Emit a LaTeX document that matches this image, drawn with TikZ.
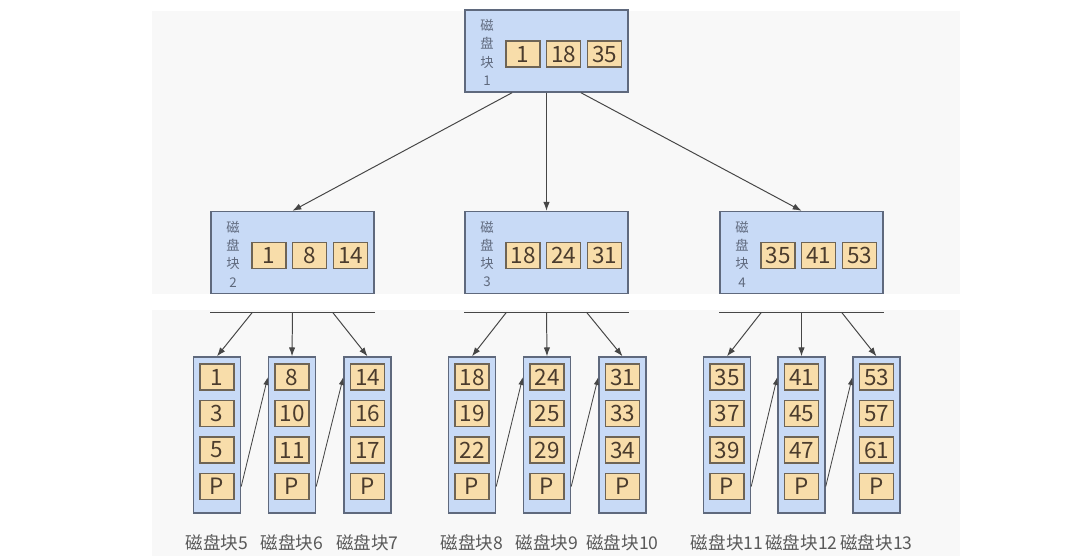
\documentclass[tikz,border=0pt]{standalone}
\usepackage{fontspec}
\usepackage{tikz}
\usetikzlibrary{arrows.meta}
\newfontfamily\cjk{Noto Sans CJK SC}

\definecolor{blockfill}{RGB}{200,218,246}
\definecolor{blockline}{RGB}{95,105,125}
\definecolor{keyfill}{RGB}{248,221,170}
\definecolor{keyline}{RGB}{110,100,85}
\definecolor{keytext}{RGB}{75,60,45}
\definecolor{arrowline}{RGB}{70,70,70}
\definecolor{backfill}{RGB}{248,248,248}

\tikzset{
  block/.style={draw=blockline, line width=1pt, fill=blockfill, inner sep=0pt},
  key/.style={draw=keyline, line width=0.8pt, fill=keyfill, text=keytext, inner sep=0pt,
    minimum width=0.85cm, minimum height=0.65cm, font=\cjk\fontsize{16}{16}\selectfont},
  blocktag/.style={align=center, text=blockline, inner sep=0pt, font=\cjk\fontsize{9.5}{13}\selectfont},
  leaftag/.style={text=black!65, inner sep=0pt, font=\cjk\fontsize{12.5}{12.5}\selectfont},
  arr/.style={draw=arrowline, line width=0.7pt, -{Latex[length=2.2mm,width=1.6mm]}},
  link/.style={draw=arrowline, line width=0.6pt, -{Latex[length=2mm,width=1.3mm]}}
}

\begin{document}
\begin{tikzpicture}[x=0.025cm, y=-0.025cm]
  \useasboundingbox (0,0) rectangle (1084,556);
  \fill[backfill] (152,11) rectangle (960,294);
  \fill[backfill] (152,310) rectangle (960,556);

  % root and second level
  \foreach \b/\x/\y/\ka/\kb/\kc in {1/546.5/51/1/18/35, 2/292.5/252.5/1/8/14,
                                     3/546.5/252.5/18/24/31, 4/801.5/252.5/35/41/53}
  {
    \node[block, minimum width=4.075cm, minimum height=2.05cm] (b\b) at (\x,\y) {};
    \node[blocktag] (t\b) at ({\x-59.5},{\y+1.5}) {磁\\盘\\块\\\b};
    \node[key] (b\b-1) at ({\x-23.5},{\y+3}) {\ka};
    \node[key] (b\b-2) at ({\x+17},{\y+3}) {\kb};
    \node[key] (b\b-3) at ({\x+58},{\y+3}) {\kc};
  }

  % leaves
  \foreach \l/\x/\ka/\kb/\kc in {5/217/1/3/5, 6/292/8/10/11, 7/367.5/14/16/17,
                                  8/472/18/19/22, 9/547/24/25/29, 10/622.5/31/33/34,
                                  11/727/35/37/39, 12/801.5/41/45/47, 13/876.5/53/57/61}
  {
    \node[block, minimum width=1.175cm, minimum height=3.9cm] (l\l) at (\x,435) {};
    \node[key] (l\l-1) at (\x,377) {\ka};
    \node[key] (l\l-2) at (\x,413.5) {\kb};
    \node[key] (l\l-3) at (\x,450) {\kc};
    \node[key] (l\l-4) at (\x,486.5) {P};
    \node[leaftag] (n\l) at (\x,543) {磁盘块\l};
  }

  \draw[arr] ([xshift=-0.86cm]b1.south) -- (b2.north);
  \draw[arr] (b1.south) -- (b3.north);
  \draw[arr] ([xshift=0.86cm]b1.south) -- (b4.north);

  \foreach \g/\p/\q/\r in {2/5/6/7, 3/8/9/10, 4/11/12/13}
  {
    \coordinate (r\g) at ([yshift=-0.45cm]b\g.south);
    \draw[draw=arrowline, line width=0.7pt] ([yshift=-0.45cm]b\g.south west) -- ([yshift=-0.45cm]b\g.south east);
    \draw[arr] ([xshift=-1cm]r\g) -- (l\p.north);
    \draw[arr] (r\g) -- (l\q.north);
    \draw[arr] ([xshift=1cm]r\g) -- (l\r.north);
  }

  \foreach \a/\b in {5/6, 6/7, 8/9, 9/10, 11/12, 12/13}
    \draw[link] (l\a.east |- l\a-4) -- (l\b.west |- l\b-1);
\end{tikzpicture}
\end{document}
